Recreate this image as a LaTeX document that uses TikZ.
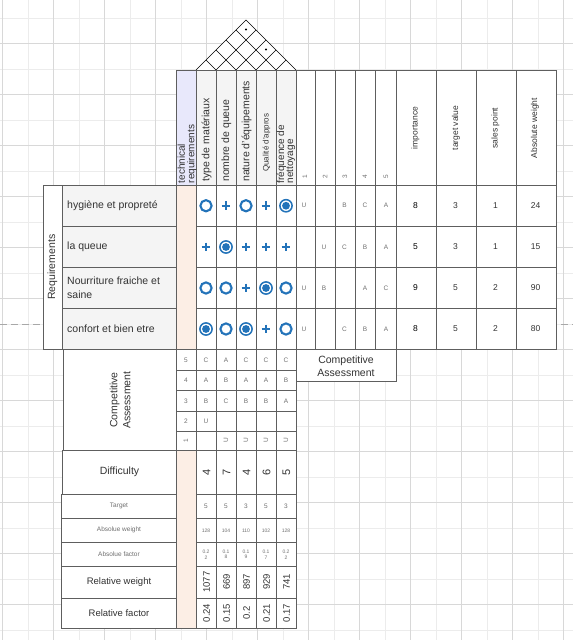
\documentclass[tikz,border=0pt]{standalone}
\usepackage{fontspec}
\setmainfont{Liberation Sans}
\definecolor{gridmaj}{HTML}{D8D8D8}
\definecolor{gridmin}{HTML}{ECECEC}
\definecolor{dashgrey}{HTML}{A8A8A8}
\definecolor{cellline}{HTML}{5E5E5E}
\definecolor{hdrgrey}{HTML}{F4F4F4}
\definecolor{lav}{HTML}{E8E8FB}
\definecolor{peach}{HTML}{FCEEE5}
\definecolor{relblue}{HTML}{2373B9}
\definecolor{txt}{HTML}{333333}
\definecolor{txtl}{HTML}{707070}
\begin{document}
\begin{tikzpicture}[x=1pt,y=-1pt,
  cell/.style={draw=cellline,line width=0.8pt},
  roof/.style={draw=black,line width=0.5pt},
  dashline/.style={draw=dashgrey,line width=0.8pt,dash pattern=on 7pt off 4pt},
  tx/.style={inner sep=0pt,text=txt},
  big/.style={tx,font=\fontsize{10.5}{12}\selectfont},
  mid/.style={tx,font=\fontsize{8.5}{10}\selectfont},
  sml/.style={inner sep=0pt,text=txtl,font=\fontsize{6.5}{7}\selectfont},
  tiny/.style={inner sep=0pt,text=txtl,font=\fontsize{5}{5.5}\selectfont},
  relO/.pic={\draw[relblue,line width=2.1pt] (0,0) circle[radius=5.6];},
  relP/.pic={\draw[relblue,line width=2.1pt] (-4.4,0)--(4.4,0) (0,-4.4)--(0,4.4);},
  relD/.pic={\draw[relblue,line width=1.5pt] (0,0) circle[radius=6.1];
             \fill[relblue] (0,0) circle[radius=3.9];}
]
\useasboundingbox (0,0) rectangle (573,640);
\fill[white] (0,0) rectangle (573,640);
% background grid
\foreach \k in {1,3,...,21} \draw[gridmin,line width=0.8pt] ({2.5+25.5*\k},0) -- ++(0,640);
\foreach \k in {0,2,...,24} \draw[gridmin,line width=0.8pt] (0,{18.2+25.5*\k}) -- ++(573,0);
\foreach \k in {0,2,...,22} \draw[gridmaj,line width=0.8pt] ({2.5+25.5*\k},0) -- ++(0,640);
\foreach \k in {1,3,...,23} \draw[gridmaj,line width=0.8pt] (0,{18.2+25.5*\k}) -- ++(573,0);
\draw[dashline] (0,324) -- (573,324);

% roof
\fill[white] (196,70) -- (246,20) -- (296,70) -- cycle;
\draw[roof] (196,70) -- (246,20) -- (296,70);
\foreach \c in {286,306,326,346} \draw[roof] ({\c-70},70) -- ({(\c+226)/2},{(\c-226)/2});
\foreach \d in {146,166,186,206} \draw[roof] ({\d+70},70) -- ({(266+\d)/2},{(266-\d)/2});
\fill (246,29.5) circle[radius=1.1];
\fill (266,49.5) circle[radius=1.1];

% header row
\draw[cell,fill=lav] (176,70) rectangle (196,185);
\foreach \xa in {196,216,236,256,276} \draw[cell,fill=hdrgrey] (\xa,70) rectangle ++(20,115);
\foreach \xa/\xb in {296/315,315/335,335/355,355/375.5,375.5/396.5,396.5/436.5,436.5/476,476/516,516/556}
  \draw[cell,fill=white] (\xa,70) rectangle (\xb,185);
\node[tx,font=\fontsize{10}{9.6}\selectfont,rotate=90,anchor=west,align=left] (htr) at (187,183.5) {technical\\requirements};
\node[big,rotate=90,anchor=west] (hta) at (206.5,182) {type de matériaux};
\node[big,rotate=90,anchor=west] (htb) at (226.5,182) {nombre de queue};
\node[big,rotate=90,anchor=west] (htc) at (246.5,182) {nature d'équipements};
\node[tx,font=\fontsize{8}{9}\selectfont,rotate=90,anchor=west] (htd) at (266.5,172) {Qualité d'appros};
\node[tx,font=\fontsize{10}{9}\selectfont,rotate=90,anchor=west,align=left] (hte) at (286,183.5) {fréquence de\\nettoyage};
\foreach \n/\xx in {1/305,2/325,3/345,4/365,5/386}
  \node[sml,rotate=90] (hn\n) at (\xx,177) {\n};
\node[mid,rotate=90] (himp) at (415.5,128) {importance};
\node[mid,rotate=90] (htv) at (456,128) {target value};
\node[mid,rotate=90] (hsp) at (495.5,128) {sales point};
\node[mid,rotate=90] (haw) at (535,128) {Absolute weight};

% requirements block
\draw[cell,fill=white] (43,185) rectangle (62,349.5);
\node[big,rotate=90] (req) at (52.5,267.25) {Requirements};
\draw[cell,fill=peach] (176,185) rectangle (196,349.5);
\foreach \ya/\yb in {185/226.5,226.5/267.5,267.5/308.5,308.5/349.5}{
  \draw[cell,fill=hdrgrey] (62,\ya) rectangle (176,\yb);
  \foreach \xa in {196,216,236,256,276} \draw[cell,fill=white] (\xa,\ya) rectangle ++(20,{\yb-\ya});
  \foreach \xa/\xb in {296/315,315/335,335/355,355/375.5,375.5/396.5,396.5/436.5,436.5/476,476/516,516/556}
    \draw[cell,fill=white] (\xa,\ya) rectangle (\xb,\yb);
}
\node[big,anchor=west] (r1) at (67,205.5) {hygiène et propreté};
\node[big,anchor=west] (r2) at (67,246.5) {la queue};
\node[big,anchor=west,align=left,font=\fontsize{10.5}{14}\selectfont] (r3) at (67,288) {Nourriture fraiche et\\saine};
\node[big,anchor=west] (r4) at (67,329) {confort et bien etre};

% relationship symbols
\foreach \yy/\lst in {205.75/{O,P,O,P,D},247/{P,D,P,P,P},288/{O,O,P,D,O},329/{D,O,D,P,O}}
  \foreach \s [count=\i] in \lst \pic at ({186+20*\i},\yy) {rel\s};

% competitive letters (right)
\foreach \yy/\ra/\rb/\rc/\rd/\re [count=\j] in {205.75/U//B/C/A,247//U/C/B/A,288/U/B//A/C,329/U//C/B/A}{
  \node[sml] (ca\j a) at (304,\yy) {\ra};
  \node[sml] (ca\j b) at (324,\yy) {\rb};
  \node[sml] (ca\j c) at (344.5,\yy) {\rc};
  \node[sml] (ca\j d) at (365,\yy) {\rd};
  \node[sml] (ca\j e) at (386,\yy) {\re};
}
% importance etc
\foreach \yy/\va/\vb/\vc/\vd [count=\j] in {205.75/8/3/1/24,247/5/3/1/15,288/9/5/2/90,329/8/5/2/80}{
  \node[mid,text=black] (im\j) at (415.5,\yy) {\va};
  \node[mid] (tv\j) at (455.5,\yy) {\vb};
  \node[mid] (sp\j) at (495.5,\yy) {\vc};
  \node[mid] (aw\j) at (535.5,\yy) {\vd};
}

% competitive assessment box (right)
\draw[cell,fill=white] (296,349.5) rectangle (396.5,381);
\node[big,align=center,font=\fontsize{10.5}{12.5}\selectfont] (cabox) at (346,366) {Competitive\\Assessment};

% lower competitive assessment
\draw[cell,fill=white] (63,349.5) rectangle (176,450);
\node[big,rotate=90,align=center,font=\fontsize{10.5}{13}\selectfont] (calow) at (120,400) {Competitive\\Assessment};
\foreach \ya/\yb in {349.5/370,370/390.5,390.5/411,411/431,431/450}
  \foreach \xa in {176,196,216,236,256,276} \draw[cell,fill=white] (\xa,\ya) rectangle ++(20,{\yb-\ya});
\foreach \yy/\n/\la/\lb/\lc/\ld/\le in {360/5/C/A/C/C/C,380.5/4/A/B/A/A/B,401/3/B/C/B/B/A,421/2/U////}{
  \node[sml] (cn\n) at (186,\yy) {\n};
  \node[sml] (cl\n a) at (206,\yy) {\la};
  \node[sml] (cl\n b) at (226,\yy) {\lb};
  \node[sml] (cl\n c) at (246,\yy) {\lc};
  \node[sml] (cl\n d) at (266,\yy) {\ld};
  \node[sml] (cl\n e) at (286,\yy) {\le};
}
\node[sml,rotate=90] (cn1) at (186,440.5) {1};
\foreach \xx/\nm in {226/b,246/c,266/d,286/e} \node[sml,rotate=90] (cl1\nm) at (\xx,440.5) {U};

% difficulty
\draw[cell,fill=white] (62.5,450) rectangle (176,494);
\node[big] (diff) at (119.5,472) {Difficulty};
\draw[cell,fill=peach] (176,450) rectangle (196,628);
\foreach \xa in {196,216,236,256,276} \draw[cell,fill=white] (\xa,450) rectangle ++(20,44);
\foreach \v/\xx [count=\i] in {4/206.5,7/226.5,4/246.5,6/266.5,5/286.5}
  \node[tx,font=\fontsize{11}{12}\selectfont,rotate=90] (dv\i) at (\xx,472) {\v};

% bottom rows
\foreach \ya/\yb in {494/518,518/542,542/566,566/598,598/628}{
  \draw[cell,fill=white] (61.5,\ya) rectangle (176,\yb);
  \foreach \xa in {196,216,236,256,276} \draw[cell,fill=white] (\xa,\ya) rectangle ++(20,{\yb-\ya});
}
\node[sml] (ltg) at (119,506) {Target};
\node[sml] (law) at (119,530) {Absolue weight};
\node[sml] (laf) at (119,554) {Absolue factor};
\node[tx,font=\fontsize{9.5}{11}\selectfont] (lrw) at (119,582.5) {Relative weight};
\node[tx,font=\fontsize{9.5}{11}\selectfont] (lrf) at (119,613) {Relative factor};
\foreach \v/\xx [count=\i] in {5/206,5/226,3/246,5/266,3/286}
  \node[sml] (tg\i) at (\xx,506.5) {\v};
\foreach \v/\xx [count=\i] in {128/206,104/226,110/246,102/266,128/286}
  \node[tiny] (wg\i) at (\xx,530.5) {\v};
\foreach \a/\b/\xx [count=\i] in {0.2/2/206,0.1/8/226,0.1/9/246,0.1/7/266,0.2/2/286}
  \node[tiny,align=center] (fc\i) at (\xx,554.5) {\a\\\b};
\foreach \v/\xx [count=\i] in {1077/206.5,669/226.5,897/246.5,929/266.5,741/286.5}
  \node[tx,font=\fontsize{9.5}{11}\selectfont,rotate=90] (rw\i) at (\xx,582) {\v};
\foreach \v/\xx [count=\i] in {0.24/206.5,0.15/226.5,0.2/246.5,0.21/266.5,0.17/286.5}
  \node[tx,font=\fontsize{9.5}{11}\selectfont,rotate=90] (rf\i) at (\xx,613) {\v};
\end{tikzpicture}
\end{document}
